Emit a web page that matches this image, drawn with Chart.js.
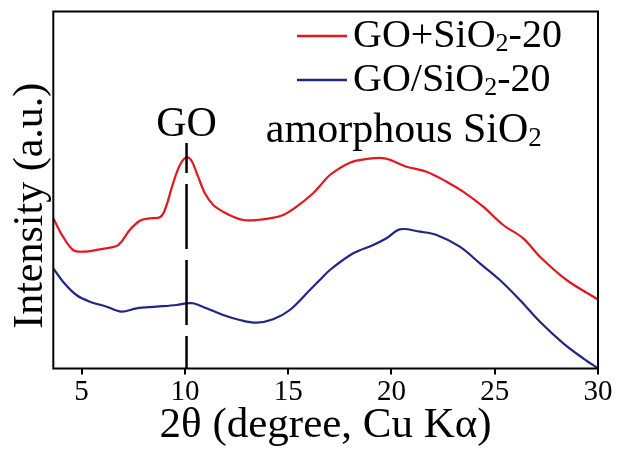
<!DOCTYPE html>
<html><head><meta charset="utf-8">
<script src="https://cdn.jsdelivr.net/npm/chart.js@4/dist/chart.umd.min.js"></script>
<style>html,body{margin:0;padding:0;background:#fff}#wrap{width:619px;height:454px}</style>
</head><body><div id="wrap"><canvas id="c" width="619" height="454"></canvas></div>
<script>
// ---- data ----
const xTickValues = [5, 10, 15, 20, 25, 30];
const seriesNames = ['GO+SiO₂-20', 'GO/SiO₂-20'];

const xRed = [3.63,4.10,4.59,5.07,5.88,6.69,6.93,7.33,7.82,8.30,8.79,9.03,9.43,9.76,10.08,10.32,10.64,10.97,11.37,11.85,12.34,12.82,13.47,14.11,14.76,15.41,16.21,16.53,17.02,17.99,18.80,19.68,20.73,21.70,22.67,23.47,24.44,25.41,26.38,27.19,28.48,30];
const yRed = [150.7,132.3,119,117.3,119.7,123,127.3,139,148.3,150.7,151.7,159,185.7,204,211.7,208.3,192.3,175.7,164,157.3,152.3,149,149,150.7,154,162.3,175.7,182.9,194,206.3,210,210.7,202.3,197.3,187.3,177.3,162.3,144,130.7,112.3,89,69.5];

const xBlue = [3.63,4.10,4.75,5.40,6.21,6.93,7.66,8.63,9.60,10.08,10.40,11.05,11.85,12.66,13.47,14.27,15.08,16.05,16.53,17.02,18.15,19.12,19.76,20.41,21.38,22.19,23.31,24.28,25.25,26.22,27.19,28.32,29.28,30];
const yBlue = [100.7,87.3,74,67.3,62.3,57.3,60.7,62.3,64,65.7,65.7,60.7,54,49,46.3,49.7,59,79,89,99,115.7,124,130.7,139.7,137.3,134,122.3,105.7,89,69,47.3,25.7,10.7,0.7];

// annotation (reference peak marker and labels)
const goPeakX = 10.08;
const goLineTopY = 226;
const annotations = [
  {text: 'GO', x: 10.08, y: 244, size: 42},
  {text: 'amorphous SiO₂', x: 20.6, y: 238, size: 42}
];

const SERIF = '"Liberation Serif", "Times New Roman", Times, serif';
const RED = '#e8141e';
const BLUE = '#1f2688';

function toXY(xs, ys) { return xs.map((x, i) => ({x: x, y: ys[i]})); }

// draw text with "₂" rendered as a real subscript
function richWidth(ctx, text, size) {
  const parts = text.split('₂');
  let w = 0;
  parts.forEach((p, i) => {
    ctx.font = size + 'px ' + SERIF;
    w += ctx.measureText(p).width;
    if (i < parts.length - 1) { ctx.font = Math.round(size * 0.64) + 'px ' + SERIF; w += ctx.measureText('2').width; }
  });
  return w;
}
function drawRich(ctx, text, x, y, size, align) {
  const parts = text.split('₂');
  let cx = x;
  if (align === 'center') cx = x - richWidth(ctx, text, size) / 2;
  ctx.textAlign = 'left';
  ctx.textBaseline = 'middle';
  ctx.fillStyle = '#000';
  parts.forEach((p, i) => {
    ctx.font = size + 'px ' + SERIF;
    ctx.fillText(p, cx, y);
    cx += ctx.measureText(p).width;
    if (i < parts.length - 1) {
      const s = Math.round(size * 0.64);
      ctx.font = s + 'px ' + SERIF;
      ctx.fillText('2', cx, y + size * 0.2);
      cx += ctx.measureText('2').width;
    }
  });
}

const framePlugin = {
  id: 'frame',
  beforeDraw(chart) {
    const ctx = chart.ctx;
    ctx.save(); ctx.fillStyle = '#fff'; ctx.fillRect(0, 0, chart.width, chart.height); ctx.restore();
  },
  afterDatasetsDraw(chart) {
    const ctx = chart.ctx, a = chart.chartArea;
    const xs = chart.scales.x, ys = chart.scales.y;
    ctx.save();
    // dashed marker at GO peak
    const px = xs.getPixelForValue(goPeakX);
    ctx.strokeStyle = '#000'; ctx.lineWidth = 2.5;
    ctx.setLineDash([65, 11]); ctx.lineDashOffset = 35;
    ctx.beginPath(); ctx.moveTo(px, ys.getPixelForValue(goLineTopY)); ctx.lineTo(px, a.bottom); ctx.stroke();
    ctx.setLineDash([]);
    // frame
    ctx.lineWidth = 2;
    ctx.strokeRect(a.left, a.top, a.right - a.left, a.bottom - a.top);
    // annotations
    annotations.forEach(t => drawRich(ctx, t.text, xs.getPixelForValue(t.x), ys.getPixelForValue(t.y), t.size, 'center'));
    // legend
    chart.data.datasets.forEach((ds, i) => {
      const y = 36 + i * 44;
      ctx.strokeStyle = ds.borderColor; ctx.lineWidth = 2.5;
      ctx.beginPath(); ctx.moveTo(297, y); ctx.lineTo(347, y); ctx.stroke();
      drawRich(ctx, ds.label, 353, y, 40, 'left');
    });
    ctx.restore();
  }
};

new Chart(document.getElementById('c'), {
  type: 'line',
  data: {
    datasets: [
      {label: seriesNames[0], data: toXY(xRed, yRed), borderColor: RED, borderWidth: 2.2, pointRadius: 0, tension: 0.35, fill: false},
      {label: seriesNames[1], data: toXY(xBlue, yBlue), borderColor: BLUE, borderWidth: 2.2, pointRadius: 0, tension: 0.35, fill: false}
    ]
  },
  options: {
    responsive: false,
    animation: false,
    devicePixelRatio: 1,
    layout: {padding: {top: 11.5, right: 21, left: 0, bottom: 0}},
    plugins: {legend: {display: false}, tooltip: {enabled: false}},
    scales: {
      x: {
        type: 'linear', min: 3.63, max: 30,
        afterBuildTicks: s => { s.ticks = xTickValues.map(v => ({value: v})); },
        afterFit: s => { s.height = 85.5; },
        border: {display: false},
        grid: {display: true, drawOnChartArea: false, drawTicks: true, tickLength: 6, color: '#000', lineWidth: 2},
        ticks: {color: '#000', padding: 0, maxRotation: 0, font: {family: SERIF, size: 29}},
        title: {display: true, text: '2θ (degree, Cu Kα)', color: '#000', font: {family: SERIF, size: 43}, padding: {top: 0, bottom: 2}}
      },
      y: {
        type: 'linear', min: 0.5, max: 357.5,
        afterFit: s => { s.width = 53.3; },
        border: {display: false},
        grid: {display: false},
        ticks: {display: false},
        title: {display: true, text: 'Intensity (a.u.)   ', color: '#000', font: {family: SERIF, size: 42}, padding: {top: 6, bottom: 0}}
      }
    }
  },
  plugins: [framePlugin]
});
</script></body></html>
